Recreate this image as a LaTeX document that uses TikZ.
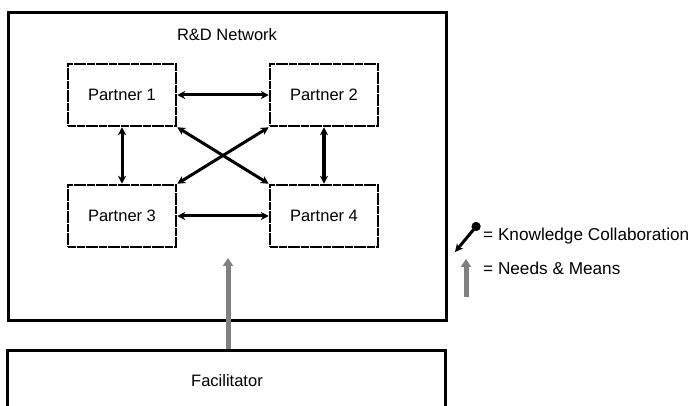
\documentclass[tikz,border=0pt]{standalone}
\usepackage{fontspec}
\setmainfont{Liberation Sans}
\usetikzlibrary{arrows.meta}
\begin{document}
\begin{tikzpicture}[x=1pt,y=-1pt,
  bigbox/.style={draw, line width=3pt, minimum width=438pt, inner sep=0pt},
  partner/.style={draw, line width=2.5pt, dash pattern=on 4pt off 0.4pt, minimum width=108pt, minimum height=62pt, inner sep=0pt, font=\fontsize{16.5}{19}\selectfont},
  lbl/.style={font=\fontsize{16.5}{19}\selectfont, inner sep=0pt},
  leg/.style={font=\fontsize{17.2}{20}\selectfont, inner sep=0pt, anchor=west},
  kc/.style={line width=3pt, {Stealth[length=8pt,width=8pt]}-{Stealth[length=8pt,width=8pt]}},
  nm/.style={line width=5pt, draw=gray, -{Triangle[length=8pt,width=10pt]}}
]
\useasboundingbox (0,0) rectangle (694,406);
\node[bigbox, minimum height=308pt] (net) at (227,167) {};
\node[bigbox, minimum height=124pt] (fac) at (226.5,412) {};
\node[lbl] (netlbl) at (227,35) {R\&D Network};
\node[lbl] (faclbl) at (227,381) {Facilitator};
\node[partner] (p1) at (122,95) {Partner 1};
\node[partner] (p2) at (324,95) {Partner 2};
\node[partner] (p3) at (122,216) {Partner 3};
\node[partner] (p4) at (324,216) {Partner 4};
\draw[kc] (p1.east) -- (p2.west);
\draw[kc] (p3.east) -- (p4.west);
\draw[kc] (p1.south) -- (p3.north);
\draw[kc, line width=4.5pt] (p2.south) -- (p4.north);
\draw[kc] (p1.south east) -- (p4.north west);
\draw[kc] (p2.south west) -- (p3.north east);
\coordinate (gtip) at (228,258);
\draw[nm] (fac.north -| gtip) -- (gtip);
% legend
\coordinate (kca) at (455,252);
\coordinate (kcb) at (479,223);
\draw[line width=3pt, {Stealth[length=8pt,width=8pt]}-{Circle[length=9pt]}] (kca) -- (kcb);
\node[leg] (kctext) at (483,236) {= Knowledge Collaboration};
\coordinate (nma) at (466,297);
\coordinate (nmb) at (466,259);
\draw[nm] (nma) -- (nmb);
\node[leg] (nmtext) at (483,268) {= Needs \& Means};
\end{tikzpicture}
\end{document}
